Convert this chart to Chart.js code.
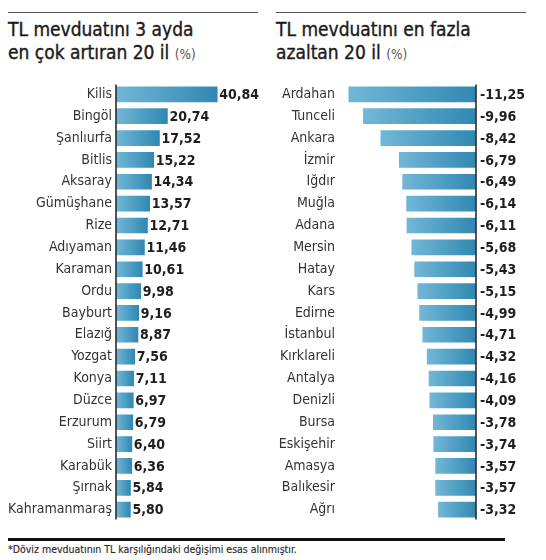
<!DOCTYPE html>
<html lang="tr">
<head>
<meta charset="utf-8">
<script src="https://cdn.jsdelivr.net/npm/chart.js@4.4.1/dist/chart.umd.min.js"></script>
<style>
    html, body { margin: 0; padding: 0; background: #fff; }
    body { width: 546px; height: 560px; position: relative; overflow: hidden; font-family: "DejaVu Sans Condensed", "DejaVu Sans", sans-serif; }
    .rule { position: absolute; top: 12px; height: 1.4px; background: #555; }
    .title { position: absolute; top: 18px; font-size: 19px; line-height: 23px; color: #1a1a1a; -webkit-text-stroke: 0.35px #1a1a1a; white-space: nowrap; }
    .title .pct { font-size: 13.5px; color: #555; -webkit-text-stroke: 0; }
    canvas { position: absolute; top: 71px; }
    .bottom-rule { position: absolute; left: 8px; top: 538px; width: 497px; height: 3px; background: #111; }
    .note { position: absolute; left: 8px; top: 543px; font-size: 10.5px; line-height: 13px; color: #2a2a2a; white-space: nowrap; -webkit-text-stroke: 0.15px #2a2a2a; }
</style>
</head>
<body>
<div class="rule" style="left:8px;width:250px"></div>
<div class="rule" style="left:276px;width:250px"></div>
<div class="title" style="left:8px">TL mevduatını 3 ayda<br>en çok artıran 20 il <span class="pct">(%)</span></div>
<div class="title" style="left:276px">TL mevduatını en fazla<br>azaltan 20 il <span class="pct">(%)</span></div>
<canvas id="riseChart" width="273" height="462" style="left:0"></canvas>
<canvas id="fallChart" width="273" height="462" style="left:273px"></canvas>
<div class="bottom-rule"></div>
<div class="note">*Döviz mevduatının TL karşılığındaki değişimi esas alınmıştır.</div>

<script>
const riseProvinces = ["Kilis", "Bingöl", "Şanlıurfa", "Bitlis", "Aksaray", "Gümüşhane", "Rize", "Adıyaman", "Karaman", "Ordu",
    "Bayburt", "Elazığ", "Yozgat", "Konya", "Düzce", "Erzurum", "Siirt", "Karabük", "Şırnak", "Kahramanmaraş"];
const riseValues = [40.84, 20.74, 17.52, 15.22, 14.34, 13.57, 12.71, 11.46, 10.61, 9.98,
    9.16, 8.87, 7.56, 7.11, 6.97, 6.79, 6.40, 6.36, 5.84, 5.80];

const fallProvinces = ["Ardahan", "Tunceli", "Ankara", "İzmir", "Iğdır", "Muğla", "Adana", "Mersin", "Hatay", "Kars",
    "Edirne", "İstanbul", "Kırklareli", "Antalya", "Denizli", "Bursa", "Eskişehir", "Amasya", "Balıkesir", "Ağrı"];
const fallValues = [-11.25, -9.96, -8.42, -6.79, -6.49, -6.14, -6.11, -5.68, -5.43, -5.15,
    -4.99, -4.71, -4.32, -4.16, -4.09, -3.78, -3.74, -3.57, -3.57, -3.32];

const FONT = "'DejaVu Sans Condensed', 'DejaVu Sans', sans-serif";

function barGradient(context) {
    const chart = context.chart;
    const xScale = chart.scales.x;
    if (!chart.chartArea || !xScale || context.raw === undefined) {
        return "#4f9fc6";
    }
    const a = xScale.getPixelForValue(0);
    const b = xScale.getPixelForValue(context.raw);
    const left = Math.min(a, b);
    const right = Math.max(a, b);
    const g = chart.ctx.createLinearGradient(left, 0, right + 0.01, 0);
    g.addColorStop(0, "#72b7d7");
    g.addColorStop(1, "#3088b2");
    return g;
}

// zero line and the value next to each bar
const barExtras = {
    id: "barExtras",
    afterDatasetsDraw(chart, args, opts) {
        const { ctx, chartArea } = chart;
        const xScale = chart.scales.x;
        const zero = xScale.getPixelForValue(0);
        ctx.save();
        ctx.strokeStyle = "#2b2b2b";
        ctx.lineWidth = 1.6;
        ctx.beginPath();
        ctx.moveTo(zero, chartArea.top + 1);
        ctx.lineTo(zero, chartArea.bottom - 1);
        ctx.stroke();

        const meta = chart.getDatasetMeta(0);
        const values = chart.data.datasets[0].data;
        ctx.font = "bold 14px " + FONT;
        ctx.fillStyle = "#1e1e1e";
        ctx.textAlign = "left";
        ctx.textBaseline = "middle";
        meta.data.forEach((bar, i) => {
            const x = Math.max(bar.x, bar.base) + opts.gap;
            ctx.fillText(values[i].toFixed(2).replace(".", ","), x, bar.y + 1);
        });
        ctx.restore();
    },
};

function makeChart(canvasId, labels, values, xMin, xMax, axisWidth, padRight, gap) {
    return new Chart(document.getElementById(canvasId), {
        type: "bar",
        data: {
            labels: labels,
            datasets: [
                {
                    data: values,
                    backgroundColor: barGradient,
                    borderWidth: 0,
                    barThickness: 15,
                },
            ],
        },
        options: {
            indexAxis: "y",
            responsive: false,
            animation: false,
            layout: {
                padding: { left: 0, right: padRight, top: 0, bottom: 0 },
            },
            plugins: {
                legend: { display: false },
                tooltip: { enabled: false },
                barExtras: { gap: gap },
            },
            scales: {
                x: {
                    display: false,
                    min: xMin,
                    max: xMax,
                },
                y: {
                    grid: { display: false, drawTicks: false },
                    border: { display: false },
                    ticks: {
                        color: "#333",
                        padding: 4,
                        font: { family: FONT, size: 14 },
                    },
                    afterFit(scale) {
                        scale.width = axisWidth;
                    },
                },
            },
        },
        plugins: [barExtras],
    });
}

makeChart("riseChart", riseProvinces, riseValues, 0, 59.3, 116, 10, 2);
makeChart("fallChart", fallProvinces, fallValues, -12.12, 0, 66, 70, 4);
</script>
</body>
</html>
